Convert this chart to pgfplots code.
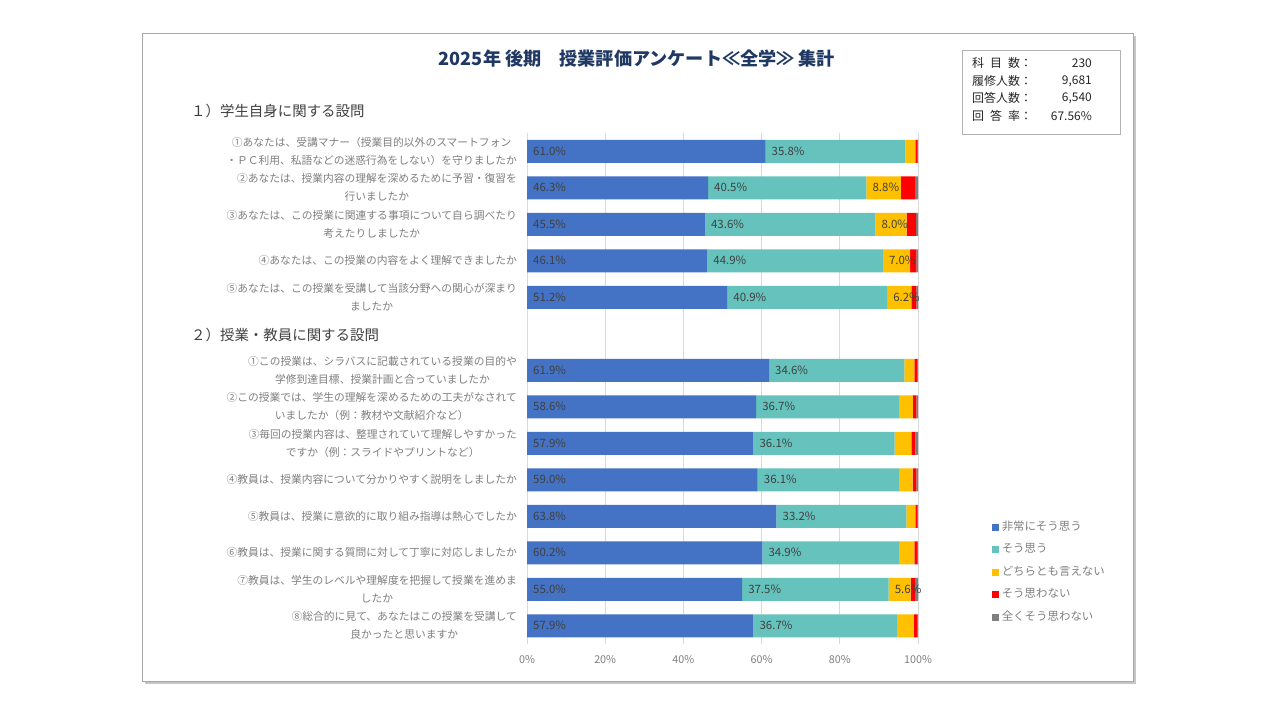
\documentclass[border=0pt]{standalone}
\usepackage{fontspec}
\setmainfont{Noto Sans CJK JP}
\usepackage{pgfplots}
\pgfplotsset{compat=1.18}
\usepackage{pgfplotstable}

\definecolor{cBlue}{HTML}{4472C4}
\definecolor{cTeal}{HTML}{66C2BC}
\definecolor{cYel}{HTML}{FFC000}
\definecolor{cRed}{HTML}{FF0000}
\definecolor{cGry}{HTML}{7F7F7F}
\definecolor{navy}{HTML}{1F3864}
\definecolor{lblgray}{HTML}{7F7F7F}
\definecolor{txtdark}{HTML}{404040}
\definecolor{gridc}{HTML}{D9D9D9}

% y = slot (6 is the gap for section 2 header), a..e = answer shares in %
\pgfplotstableread{
y  a    b    c    d    e
1  61.0 35.8 2.5  0.5  0.2
2  46.3 40.5 8.8  3.8  0.6
3  45.5 43.6 8.0  2.4  0.5
4  46.1 44.9 7.0  1.6  0.4
5  51.2 40.9 6.2  1.3  0.4
7  61.9 34.6 2.6  0.6  0.3
8  58.6 36.7 3.4  0.9  0.4
9  57.9 36.1 4.3  1.0  0.7
10 59.0 36.1 3.5  1.0  0.4
11 63.8 33.2 2.3  0.5  0.2
12 60.2 34.9 4.0  0.7  0.2
13 55.0 37.5 5.6  1.3  0.6
14 57.9 36.7 4.3  0.8  0.3
}\survey

\pgfplotsset{
  sqleg/.style={legend image code/.code={\fill[##1] (0bp,-3.5bp) rectangle (7bp,3.5bp);}},
  frame/.style={at={(527bp,-644bp)}, anchor=south west, scale only axis,
    width=391bp, height=511bp, xmin=0, xmax=100, ymin=0.5, ymax=14.5, y dir=reverse},
}

\begin{document}
\begin{tikzpicture}
\path[use as bounding box] (0,0) rectangle (1280bp,-720bp);
\begin{scope}[x=1bp,y=-1bp]
  \fill[gray!45] (145,36) rectangle (1136,684);
  \filldraw[fill=white, draw=gray!70, line width=0.75bp] (142,33) rectangle (1133,681);
\end{scope}

\begin{axis}[frame,
  xbar stacked, bar width=23bp,
  axis line style={draw=none}, tick style={draw=none},
  xmajorgrids, grid style={gridc, line width=0.75bp},
  xtick={0,20,40,60,80,100},
  xticklabels={0\%,20\%,40\%,60\%,80\%,100\%},
  xticklabel style={font=\fontsize{10.8}{12}\selectfont, text=lblgray, inner sep=0pt, yshift=-11bp},
  ytick={1,2,3,4,5,7,8,9,10,11,12,13,14},
  yticklabels={
    {①あなたは、受講マナー（授業目的以外のスマートフォン\\・ＰＣ利用、私語などの迷惑行為をしない）を守りましたか},
    {②あなたは、授業内容の理解を深めるために予習・復習を\\行いましたか},
    {③あなたは、この授業に関連する事項について自ら調べたり\\考えたりしましたか},
    {④あなたは、この授業の内容をよく理解できましたか},
    {⑤あなたは、この授業を受講して当該分野への関心が深まり\\ましたか},
    {①この授業は、シラバスに記載されている授業の目的や\\学修到達目標、授業計画と合っていましたか},
    {②この授業では、学生の理解を深めるための工夫がなされて\\いましたか（例：教材や文献紹介など）},
    {③毎回の授業内容は、整理されていて理解しやすかった\\ですか（例：スライドやプリントなど）},
    {④教員は、授業内容について分かりやすく説明をしましたか},
    {⑤教員は、授業に意欲的に取り組み指導は熱心でしたか},
    {⑥教員は、授業に関する質問に対して丁寧に対応しましたか},
    {⑦教員は、学生のレベルや理解度を把握して授業を進めま\\したか},
    {⑧総合的に見て、あなたはこの授業を受講して\\良かったと思いますか}},
  yticklabel style={font=\fontsize{10.8}{18}\selectfont, text=lblgray, align=center, inner sep=0pt, xshift=-10bp},
  legend style={at={(1.1816,0.2446)}, anchor=north west, draw=none, fill=none,
    font=\fontsize{11.5}{13}\selectfont, text=lblgray, row sep=10.5bp,
    nodes={inner sep=0pt, text height=9bp, text depth=3bp}},
  legend cell align=left,
]
\addplot[sqleg, fill=cBlue, draw=none] table[x=a, y=y] {\survey};
\addplot[sqleg, fill=cTeal, draw=none] table[x=b, y=y] {\survey};
\addplot[sqleg, fill=cYel, draw=none] table[x=c, y=y] {\survey};
\addplot[sqleg, fill=cRed, draw=none] table[x=d, y=y] {\survey};
\addplot[sqleg, fill=cGry, draw=none] table[x=e, y=y] {\survey};
\legend{\ 非常にそう思う,\ そう思う,\ どちらとも言えない,\ そう思わない,\ 全くそう思わない}
\end{axis}

\begin{axis}[frame, hide axis, unbounded coords=discard,
  point meta=explicit,
  /pgf/number format/assume math mode=true,
  nodes near coords={\pgfmathprintnumber[fixed,fixed zerofill,precision=1]{\pgfplotspointmeta}\%},
  every node near coord/.append style={anchor=west, xshift=6bp, inner sep=0pt,
    font=\fontsize{11.5}{12}\selectfont, text=txtdark},
]
\addplot[draw=none, mark=none] table[x expr=0, y=y, meta=a] {\survey};
\addplot[draw=none, mark=none] table[x=a, y=y, meta=b] {\survey};
\addplot[draw=none, mark=none] table[x expr={\thisrow{c}<5 ? nan : \thisrow{a}+\thisrow{b}}, y=y, meta=c] {\survey};
\end{axis}

\begin{scope}[x=1bp,y=-1bp]
  \node[text=navy, font=\fontsize{18.2}{20}\selectfont\bfseries] at (637,59) {2025年 後期　授業評価アンケート≪全学≫ 集計};
  \node[anchor=west, text=txtdark, font=\fontsize{14.5}{16}\selectfont, inner sep=0pt] at (191,111) {１）学生自身に関する設問};
  \node[anchor=west, text=txtdark, font=\fontsize{14.5}{16}\selectfont, inner sep=0pt] at (191,335) {２）授業・教員に関する設問};
  \draw[gray!60, line width=0.75bp] (962,50) rectangle (1120,134);
  \begin{scope}[every node/.style={inner sep=0pt, font=\fontsize{12}{14}\selectfont, text=black!85}]
    \node[anchor=west] at (972,63) {\makebox[48bp][s]{科\hfill 目\hfill 数}：};
    \node[anchor=west] at (972,81) {\makebox[48bp][s]{履修人数}：};
    \node[anchor=west] at (972,98) {\makebox[48bp][s]{回答人数}：};
    \node[anchor=west] at (972,116) {\makebox[48bp][s]{回\hfill 答\hfill 率}：};
    \node[anchor=east] at (1092,63) {230};
    \node[anchor=east] at (1092,81) {9,681};
    \node[anchor=east] at (1092,98) {6,540};
    \node[anchor=east] at (1092,116) {67.56\%};
  \end{scope}
\end{scope}
\end{tikzpicture}
\end{document}
